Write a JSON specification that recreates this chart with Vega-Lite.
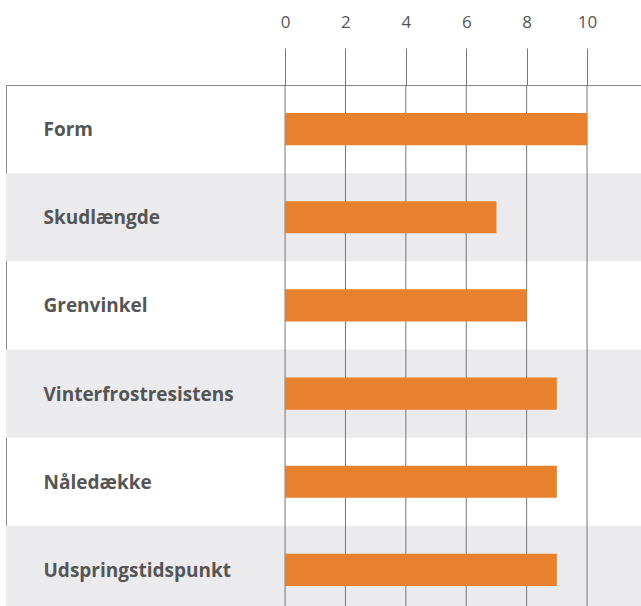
{
  "$schema": "https://vega.github.io/schema/vega-lite/v6.json",
  "width": 636,
  "height": 529,
  "autosize": "none",
  "padding": {"left": 6, "top": 85, "right": 0, "bottom": 0},
  "background": "white",
  "config": {
    "view": {"stroke": "#888888", "strokeWidth": 1},
    "font": "Open Sans"
  },
  "datasets": {
    "scores": [
      {"category": "Form", "value": 10},
      {"category": "Skudlængde", "value": 7},
      {"category": "Grenvinkel", "value": 8},
      {"category": "Vinterfrostresistens", "value": 9},
      {"category": "Nåledække", "value": 9},
      {"category": "Udspringstidspunkt", "value": 9}
    ],
    "gridvals": [
      {"v": 0}, {"v": 2}, {"v": 4}, {"v": 6}, {"v": 8}, {"v": 10}
    ]
  },
  "resolve": {"scale": {"x": "shared", "y": "shared"}},
  "layer": [
    {
      "data": {"name": "scores"},
      "transform": [
        {"window": [{"op": "row_number", "as": "rn"}]},
        {"filter": "datum.rn % 2 == 0"}
      ],
      "mark": {"type": "rect", "color": "#ebebed"},
      "encoding": {
        "y": {
          "field": "category",
          "type": "nominal",
          "scale": {
            "domain": ["Form", "Skudlængde", "Grenvinkel", "Vinterfrostresistens", "Nåledække", "Udspringstidspunkt"],
            "paddingInner": 0,
            "paddingOuter": 0
          },
          "axis": {
            "orient": "left",
            "title": null,
            "domain": false,
            "ticks": false,
            "tickSize": 0,
            "grid": false,
            "labelAlign": "left",
            "labelPadding": -37,
            "labelOffset": 1,
            "labelLimit": 400,
            "labelFontSize": 19,
            "labelFontWeight": "bold",
            "labelColor": "#555555",
            "labelFont": "Open Sans"
          }
        },
        "x": {
          "datum": -9.24,
          "type": "quantitative",
          "scale": {"domain": [-9.24, 11.82], "nice": false, "zero": false},
          "axis": {
            "orient": "top",
            "title": null,
            "values": [0, 2, 4, 6, 8, 10],
            "domain": false,
            "grid": false,
            "tickSize": 37,
            "tickColor": "#777777",
            "tickWidth": 1,
            "labelPadding": 17,
            "labelFontSize": 17,
            "labelColor": "#555555",
            "labelFont": "Open Sans"
          }
        },
        "x2": {"datum": 11.82}
      }
    },
    {
      "data": {"name": "gridvals"},
      "mark": {"type": "rule", "color": "#777777", "strokeWidth": 1},
      "encoding": {
        "x": {"field": "v", "type": "quantitative"}
      }
    },
    {
      "data": {"name": "scores"},
      "mark": {"type": "bar", "color": "#e8812d", "height": {"band": 0.364}},
      "encoding": {
        "y": {"field": "category", "type": "nominal"},
        "x": {"field": "value", "type": "quantitative"}
      }
    }
  ]
}
